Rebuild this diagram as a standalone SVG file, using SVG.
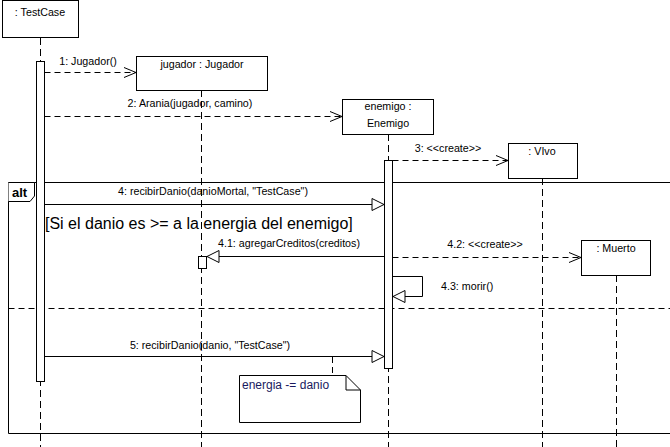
<svg xmlns="http://www.w3.org/2000/svg" width="670" height="447" viewBox="0 0 670 447">
<defs>
<style>
text{font-family:"Liberation Sans",Arial,sans-serif;font-size:10.7px;fill:#000}
.box{fill:#fff;stroke:#000;stroke-width:1}
.life{stroke:#000;stroke-width:1;stroke-dasharray:7,4;fill:none}
.msg{stroke:#000;stroke-width:1;fill:none}
.dash{stroke:#000;stroke-width:1;stroke-dasharray:6,4;fill:none}
.act{fill:#fff;stroke:#000;stroke-width:1}
</style>
<marker id="open" markerWidth="14" markerHeight="12" refX="13" refY="6" orient="auto" markerUnits="userSpaceOnUse">
<path d="M1,1 L13,6 L1,11" fill="none" stroke="#000"/>
</marker>
<marker id="tri" markerWidth="14" markerHeight="14" refX="13" refY="7" orient="auto" markerUnits="userSpaceOnUse">
<path d="M1,1 L13,7 L1,13 Z" fill="#fff" stroke="#000"/>
</marker>
</defs>
<rect width="670" height="447" fill="#fff"/>

<g id="lifelines">
<line class="life" x1="40.5" y1="38" x2="40.5" y2="447"/>
<line class="life" x1="201.5" y1="90" x2="201.5" y2="447"/>
<line class="life" x1="388.5" y1="134" x2="388.5" y2="447"/>
<line class="life" x1="542.5" y1="178" x2="542.5" y2="447"/>
<line class="life" x1="616.5" y1="275" x2="616.5" y2="447"/>
</g>

<g id="alt-frame">
<path d="M670,182.5 H8.5 V433.5 H670" class="msg"/>
<path d="M8.5,182.5 H34.5 V196 L30,201.5 H8.5" fill="#fff" stroke="#000"/>
<text x="12" y="197" style="font-weight:bold;font-size:13px">alt</text>
<line class="dash" x1="8.5" y1="308.5" x2="670" y2="308.5"/>
<text x="45" y="229" style="font-size:16px">[Si el danio es &gt;= a la energia del enemigo]</text>
</g>

<g id="testcase">
<rect class="box" x="2.5" y="0.5" width="76" height="37"/>
<text x="40" y="16" text-anchor="middle">: TestCase</text>
<rect class="act" x="36.5" y="61.5" width="8" height="320"/>
</g>

<g id="jugador">
<rect class="box" x="136.5" y="56.5" width="131" height="34"/>
<text x="202" y="68" text-anchor="middle">jugador : Jugador</text>
<rect class="act" x="198.5" y="256.5" width="8" height="12"/>
</g>

<g id="enemigo">
<rect class="box" x="342.5" y="99.5" width="91" height="35"/>
<text x="388" y="110" text-anchor="middle">enemigo :</text>
<text x="388" y="127" text-anchor="middle">Enemigo</text>
<rect class="act" x="384.5" y="160.5" width="8" height="208"/>
</g>

<g id="vivo">
<rect class="box" x="508.5" y="143.5" width="69" height="35"/>
<text x="542" y="155" text-anchor="middle">: VIvo</text>
</g>

<g id="muerto">
<rect class="box" x="581.5" y="240.5" width="69" height="35"/>
<text x="616" y="252" text-anchor="middle">: Muerto</text>
</g>

<g id="note">
<path d="M239.5,375.5 H346 L360.5,390 V422.5 H239.5 Z" fill="#fff" stroke="#000"/>
<path d="M346,375.5 V390 H360.5" fill="none" stroke="#000"/>
<text x="242" y="389" style="font-size:12px;fill:#1a1a60">energia -= danio</text>
</g>

<g id="connectors">
<line class="dash" x1="44.5" y1="72.5" x2="136" y2="72.5" marker-end="url(#open)"/>
<text x="88" y="65" text-anchor="middle">1: Jugador()</text>

<line class="dash" x1="44.5" y1="116.5" x2="342" y2="116.5" marker-end="url(#open)"/>
<text x="190" y="107" text-anchor="middle">2: Arania(jugador, camino)</text>

<line class="dash" x1="392.5" y1="160.5" x2="508" y2="160.5" marker-end="url(#open)"/>
<text x="448" y="152" text-anchor="middle">3: &lt;&lt;create&gt;&gt;</text>

<line class="msg" x1="44.5" y1="204.5" x2="384" y2="204.5" marker-end="url(#tri)"/>
<text x="213" y="195" text-anchor="middle">4: recibirDanio(danioMortal, "TestCase")</text>

<line class="msg" x1="384.5" y1="256.5" x2="207" y2="256.5" marker-end="url(#tri)"/>
<text x="289" y="247" text-anchor="middle">4.1: agregarCreditos(creditos)</text>

<line class="dash" x1="392.5" y1="257.5" x2="581" y2="257.5" marker-end="url(#open)"/>
<text x="485" y="248" text-anchor="middle">4.2: &lt;&lt;create&gt;&gt;</text>

<path class="msg" d="M392.5,276.5 H422.5 V296.5 H393" marker-end="url(#tri)"/>
<text x="441" y="290">4.3: morir()</text>

<line class="msg" x1="44.5" y1="356.5" x2="384" y2="356.5" marker-end="url(#tri)"/>
<text x="210" y="349" text-anchor="middle">5: recibirDanio(danio, "TestCase")</text>

<line class="dash" x1="332.5" y1="357" x2="332.5" y2="375"/>
</g>
</svg>
